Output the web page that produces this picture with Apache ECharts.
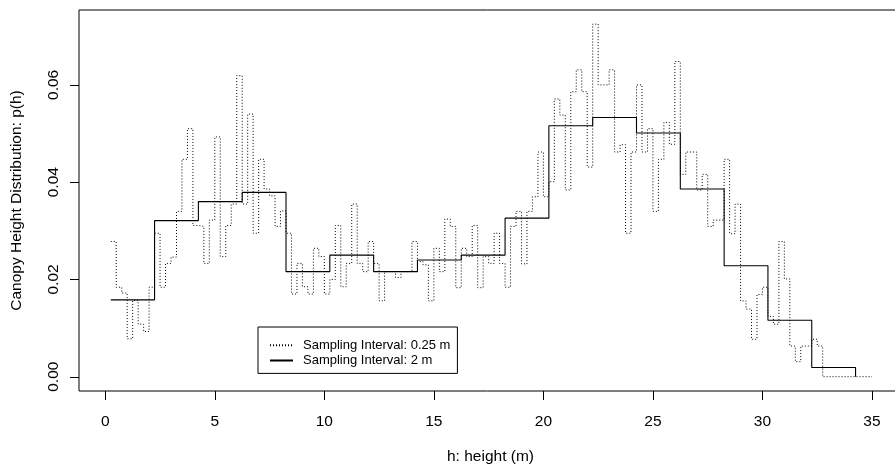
<!DOCTYPE html>
<html>
<head>
<meta charset="utf-8">
<script src="https://cdn.jsdelivr.net/npm/echarts@6/dist/echarts.min.js"></script>
<style>
  html, body { margin: 0; padding: 0; background: #fff; }
  #chart { width: 895px; height: 465px; }
</style>
</head>
<body>
<div id="chart"></div>
<script>
// Canopy height distribution p(h), sampled at two bin widths.
// Each value is the density of a bin that starts at start + i * step.

// 0.25 m bins, first bin starts at 0.25 m; the last entry closes the step at 35 m
const fineStart = 0.25;
const fineStep = 0.25;
const fineDensity = [
  0.0278, 0.0184, 0.0172, 0.0078, 0.0157, 0.0108, 0.0093, 0.0184,
  0.0295, 0.0184, 0.0233, 0.0246, 0.0340, 0.0447, 0.0510, 0.0311,
  0.0309, 0.0233, 0.0322, 0.0493, 0.0247, 0.0311, 0.0355, 0.0619,
  0.0355, 0.0540, 0.0295, 0.0447, 0.0386, 0.0372, 0.0309, 0.0341,
  0.0295, 0.0170, 0.0233, 0.0185, 0.0170, 0.0264, 0.0247, 0.0170,
  0.0200, 0.0311, 0.0185, 0.0233, 0.0355, 0.0233, 0.0216, 0.0278,
  0.0233, 0.0156, 0.0216, 0.0216, 0.0204, 0.0216, 0.0216, 0.0278,
  0.0237, 0.0230, 0.0156, 0.0264, 0.0216, 0.0324, 0.0309, 0.0183,
  0.0264, 0.0247, 0.0311, 0.0183, 0.0247, 0.0233, 0.0295, 0.0233,
  0.0184, 0.0309, 0.0340, 0.0232, 0.0340, 0.0370, 0.0462, 0.0370,
  0.0401, 0.0571, 0.0538, 0.0384, 0.0586, 0.0631, 0.0586, 0.0431,
  0.0725, 0.0600, 0.0600, 0.0631, 0.0462, 0.0477, 0.0295, 0.0462,
  0.0600, 0.0462, 0.0510, 0.0340, 0.0447, 0.0523, 0.0478, 0.0648,
  0.0416, 0.0462, 0.0462, 0.0384, 0.0416, 0.0309, 0.0322, 0.0322,
  0.0447, 0.0294, 0.0355, 0.0156, 0.0139, 0.0077, 0.0169, 0.0184,
  0.0124, 0.0108, 0.0278, 0.0201, 0.0063, 0.0031, 0.0063, 0.0063,
  0.0077, 0.0063, 0, 0, 0, 0, 0, 0,
  0, 0, 0, 0
];

// 2 m bins, first bin starts at 0.25 m; the last entry closes the step at 34.25 m
const coarseStart = 0.25;
const coarseStep = 2;
const coarseDensity = [
  0.0158, 0.0321, 0.0360, 0.0379, 0.0216, 0.0250, 0.0216, 0.0240,
  0.0250, 0.0326, 0.0516, 0.0533, 0.0501, 0.0386, 0.0228, 0.0116,
  0.0019, 0
];

const seriesNames = ['Sampling Interval: 0.25 m', 'Sampling Interval: 2 m'];
const xTicks = [0, 5, 10, 15, 20, 25, 30, 35];
const yTicks = [0, 0.02, 0.04, 0.06];

const toPoints = (start, step, values) =>
  values.map((v, i) => [+(start + i * step).toFixed(4), v]);

const FONT = "'Liberation Sans', Arial, Helvetica, sans-serif";

// Axis ranges (the frame extends a little past the data)
const X_MIN = -1.2, X_MAX = 36.37;
const Y_MIN = -0.00294, Y_MAX = 0.0754;
const TICK_LEN = 9;

const chart = echarts.init(document.getElementById('chart'), null, { renderer: 'canvas' });

chart.setOption({
  animation: false,
  backgroundColor: '#fff',
  textStyle: { fontFamily: FONT, color: '#000' },
  grid: {
    left: 79, top: 10, width: 823, height: 381,
    containLabel: false, outerBoundsMode: 'none',
    show: true, borderColor: '#000', borderWidth: 1, backgroundColor: 'transparent'
  },
  legend: {
    orient: 'vertical',
    left: 258, top: 327,
    data: seriesNames,
    itemWidth: 23, itemHeight: 12, itemGap: 2.3,
    padding: [11.7, 7, 6.4, 11],
    borderColor: '#000', borderWidth: 1, borderRadius: 0,
    backgroundColor: '#fff',
    textStyle: { fontFamily: FONT, fontSize: 13, color: '#000', lineHeight: 12, padding: [0, 0, 0, 5] },
    selectedMode: false
  },
  xAxis: {
    type: 'value',
    min: X_MIN, max: X_MAX,
    name: 'h: height (m)',
    nameLocation: 'middle',
    nameGap: 58,
    nameTextStyle: { fontFamily: FONT, fontSize: 15.5, color: '#000' },
    axisLine: { show: false, onZero: false },
    splitLine: { show: false },
    axisTick: { show: false },
    axisLabel: { customValues: xTicks, margin: 23, fontFamily: FONT, fontSize: 15.5, color: '#000' }
  },
  yAxis: {
    type: 'value',
    min: Y_MIN, max: Y_MAX,
    name: 'Canopy Height Distribution: p(h)',
    nameLocation: 'middle',
    nameGap: 54,
    nameRotate: 90,
    nameTextStyle: { fontFamily: FONT, fontSize: 15.5, color: '#000' },
    axisLine: { show: false, onZero: false },
    splitLine: { show: false },
    axisTick: { show: false },
    axisLabel: {
      customValues: yTicks, rotate: 90, margin: 17,
      fontFamily: FONT, fontSize: 15.5, color: '#000',
      formatter: v => v.toFixed(2)
    }
  },
  series: [
    {
      name: seriesNames[0],
      type: 'line',
      step: 'end',
      symbol: 'none',
      data: toPoints(fineStart, fineStep, fineDensity),
      lineStyle: { color: '#000', width: 1, type: [1, 2] },
      // no point markers, also keeps the legend key a plain line
      itemStyle: { color: '#000', opacity: 0 },
      z: 2
    },
    {
      name: seriesNames[1],
      type: 'line',
      step: 'end',
      symbol: 'none',
      data: toPoints(coarseStart, coarseStep, coarseDensity),
      lineStyle: { color: '#000', width: 1.1, type: 'solid' },
      itemStyle: { color: '#000', opacity: 0 },
      z: 3
    }
  ]
});

// Outward tick marks on the frame, placed through the chart's own axis scales.
const finder = { xAxisIndex: 0, yAxisIndex: 0 };
const crisp = v => Math.round(v) + 0.5;
const tickEls = [];
xTicks.forEach(v => {
  const p = chart.convertToPixel(finder, [v, Y_MIN]);
  const x = crisp(p[0]), y = Math.round(p[1]);
  tickEls.push({ type: 'line', silent: true, z: 100,
    shape: { x1: x, y1: y, x2: x, y2: y + TICK_LEN },
    style: { stroke: '#000', lineWidth: 1 } });
});
yTicks.forEach(v => {
  const p = chart.convertToPixel(finder, [X_MIN, v]);
  const x = Math.round(p[0]), y = crisp(p[1]);
  tickEls.push({ type: 'line', silent: true, z: 100,
    shape: { x1: x, y1: y, x2: x - TICK_LEN, y2: y },
    style: { stroke: '#000', lineWidth: 1 } });
});
chart.setOption({ graphic: { elements: tickEls } });
</script>
</body>
</html>
